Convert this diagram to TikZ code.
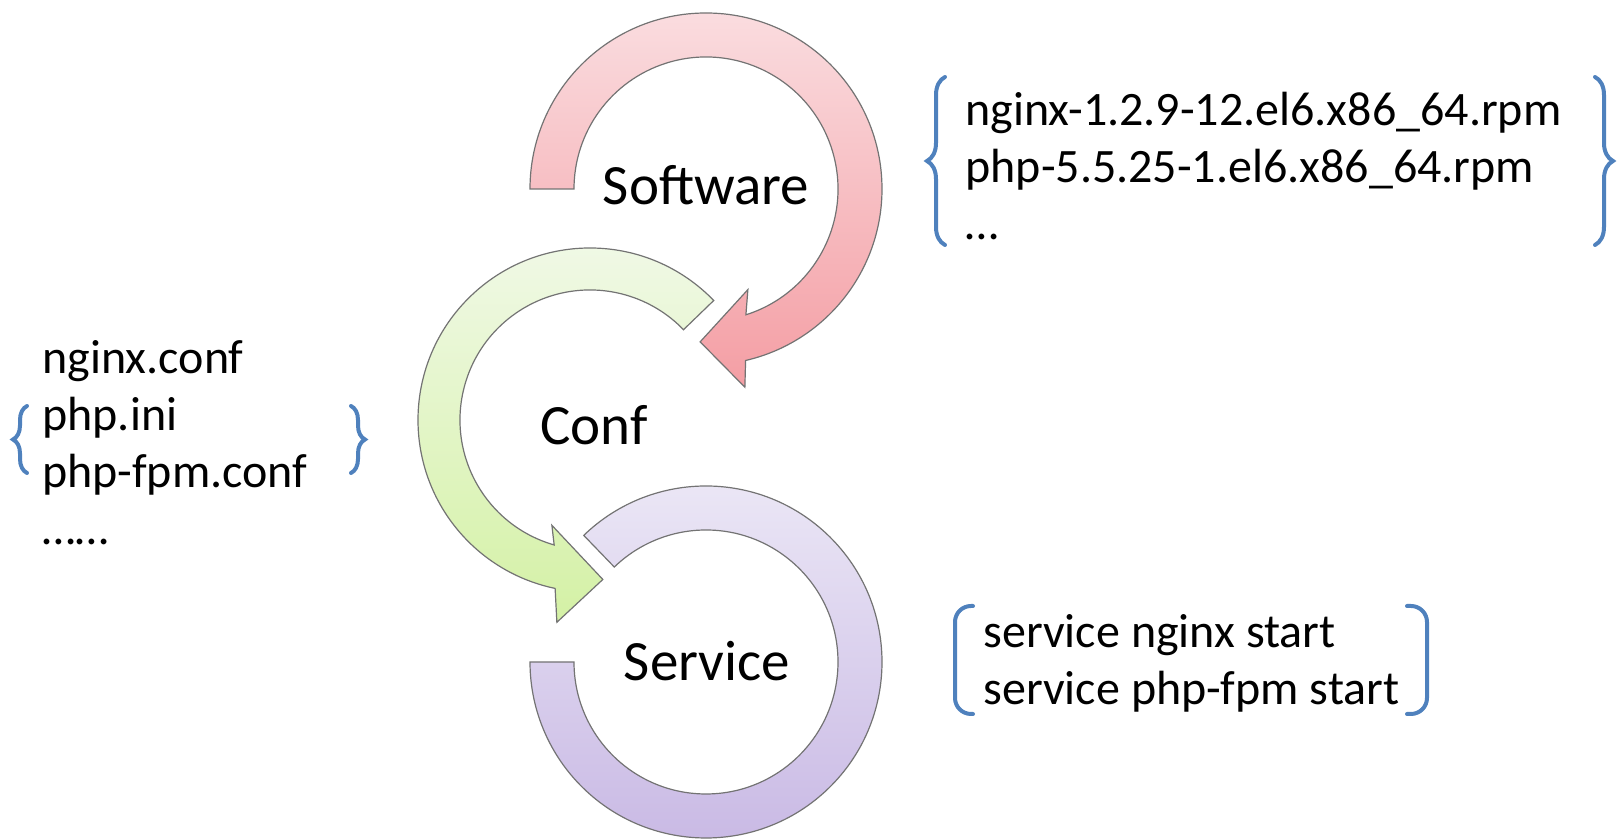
\documentclass[tikz,border=0pt]{standalone}
\usepackage{fontspec}
\setmainfont{Carlito}
\usetikzlibrary{decorations.pathreplacing}
\definecolor{bracecol}{RGB}{79,129,189}
\definecolor{redtop}{RGB}{250,220,223}
\definecolor{redbot}{RGB}{244,158,164}
\definecolor{greentop}{RGB}{241,249,232}
\definecolor{greenbot}{RGB}{212,241,165}
\definecolor{violettop}{RGB}{236,232,246}
\definecolor{violetbot}{RGB}{200,184,228}
\begin{document}
\begin{tikzpicture}[x=0.5pt, y=0.5pt,
  ring/.style={draw=black!55, line width=0.6pt},
  stage/.style={font=\fontsize{28.5}{34}\selectfont, inner sep=0pt},
  info/.style={font=\fontsize{24}{28.5}\selectfont, align=left, inner sep=0pt, anchor=base west},
  curly/.style={draw=bracecol, line width=2pt, line cap=round, decorate, decoration={brace, amplitude=#1}},
  curly/.default=9pt,
  squarebr/.style={draw=bracecol, line width=2pt, line cap=round, rounded corners=8pt}]
\useasboundingbox (0,0) rectangle (1619,839);

% service ring
\begin{scope}[shift={(706,177)}]
  \draw[ring, top color=violettop, bottom color=violetbot]
    (134:176) arc[start angle=134, end angle=-180, radius=176]
    -- (-180:132) arc[start angle=-180, end angle=134, radius=132] -- cycle;
\end{scope}

% conf arrow
\begin{scope}[shift={(590,419)}]
  \draw[ring, top color=greentop, bottom color=greenbot]
    (44:172) arc[start angle=44, end angle=258.3, radius=172]
    -- (260.7:205) -- (274.6:160) -- (250.1:112) -- (254:130)
    arc[start angle=254, end angle=44, radius=130] -- cycle;
\end{scope}

% software arrow
\begin{scope}[shift={(706,650)}]
  \draw[ring, top color=redtop, bottom color=redbot]
    (180:176) arc[start angle=180, end angle=-77, radius=176]
    -- (-78.9:202) -- (-92.2:153) -- (-67.4:109) -- (-72.4:132)
    arc[start angle=-72.4, end angle=180, radius=132] -- cycle;
\end{scope}

\node[stage] (software) at (706,654) {Software};
\node[stage] (conf) at (594,414) {Conf};
\node[stage] (service) at (707,178) {Service};

% packages (base = last line)
\node[info] (rpms) at (965,599) {nginx-1.2.9-12.el6.x86\_64.rpm\\php-5.5.25-1.el6.x86\_64.rpm\\…};
\draw[curly] (945,594) -- (945,762);
\draw[curly] (1595,762) -- (1595,594);

% config files
\node[info] (files) at (42,294) {nginx.conf\\php.ini\\php-fpm.conf\\……};
\draw[curly=7pt] (27,366) -- (27,433);
\draw[curly=7pt] (351,433) -- (351,366);

% start commands
\node[info] (cmds) at (983,134) {service nginx start\\service php-fpm start};
\draw[squarebr] (973,233) -- (955,233) -- (955,125) -- (973,125);
\draw[squarebr] (1407,233) -- (1427,233) -- (1427,125) -- (1407,125);
\end{tikzpicture}
\end{document}
